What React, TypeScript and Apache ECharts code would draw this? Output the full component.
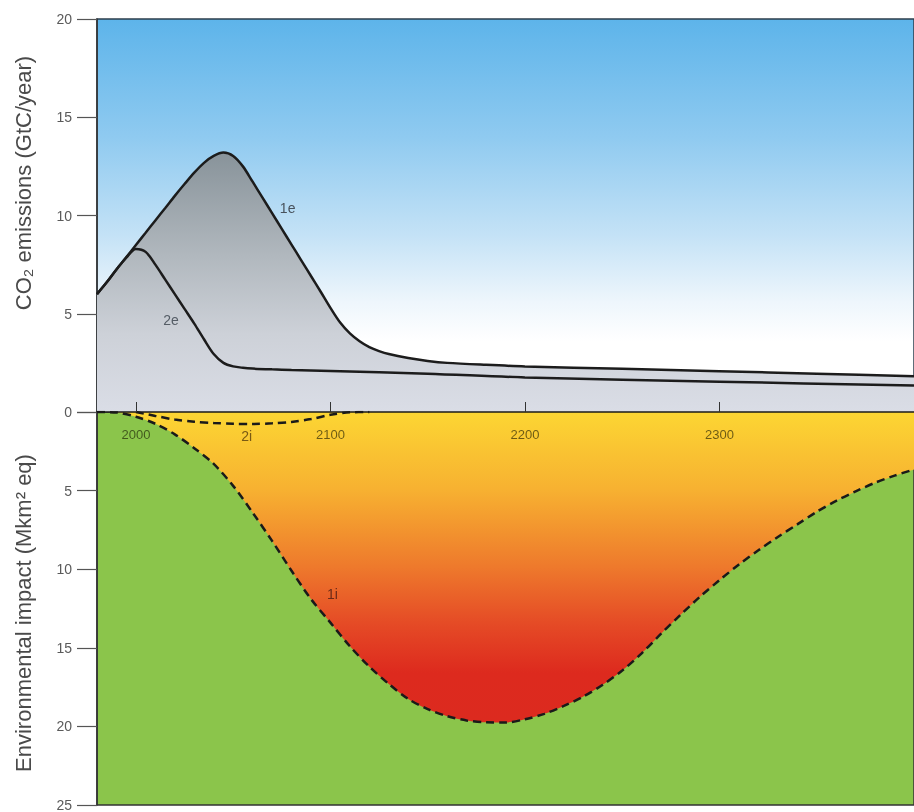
import React, { useEffect, useRef } from "react";
import * as echarts from "echarts";

const yearTicks = [2000, 2100, 2200, 2300];
const emissionTicks = [0, 5, 10, 15, 20];
const impactTicks = [0, 5, 10, 15, 20, 25];

const years1e = [1980, 1985, 1990, 1995, 2000, 2005, 2010, 2015, 2020, 2025, 2030, 2035, 2040, 2045, 2050, 2055, 2060, 2065, 2070, 2075, 2080, 2085, 2090, 2095, 2100, 2105, 2110, 2115, 2120, 2125, 2130, 2140, 2150, 2160, 2180, 2200, 2250, 2300, 2350, 2400];
const values1e = [6.0, 6.6, 7.25, 7.87, 8.5, 9.12, 9.75, 10.37, 11.0, 11.6, 12.18, 12.68, 13.03, 13.2, 13.03, 12.5, 11.72, 10.92, 10.12, 9.32, 8.52, 7.72, 6.92, 6.12, 5.3, 4.55, 4.0, 3.6, 3.3, 3.1, 2.95, 2.75, 2.6, 2.5, 2.4, 2.32, 2.2, 2.08, 1.95, 1.82];

const years2e = [1980, 1985, 1990, 1995, 2000, 2005, 2010, 2015, 2020, 2025, 2030, 2035, 2040, 2045, 2050, 2055, 2060, 2070, 2080, 2100, 2150, 2200, 2300, 2400];
const values2e = [6.0, 6.6, 7.25, 7.85, 8.3, 8.15, 7.5, 6.75, 6.0, 5.25, 4.5, 3.7, 2.95, 2.5, 2.32, 2.25, 2.21, 2.17, 2.14, 2.09, 1.95, 1.76, 1.54, 1.35];

const years1i = [1980, 1990, 2000, 2010, 2020, 2030, 2040, 2050, 2060, 2070, 2080, 2090, 2100, 2110, 2120, 2130, 2140, 2150, 2160, 2170, 2180, 2190, 2200, 2210, 2220, 2230, 2240, 2250, 2260, 2270, 2280, 2290, 2300, 2310, 2320, 2330, 2340, 2350, 2360, 2370, 2380, 2390, 2400];
const values1i = [0, 0.03, 0.3, 0.75, 1.42, 2.3, 3.3, 4.7, 6.4, 8.2, 10.1, 11.9, 13.4, 14.9, 16.2, 17.3, 18.25, 18.9, 19.35, 19.62, 19.74, 19.75, 19.55, 19.2, 18.7, 18.1, 17.35, 16.45, 15.35, 14.1, 12.9, 11.75, 10.7, 9.7, 8.8, 7.95, 7.15, 6.35, 5.65, 5.05, 4.5, 4.05, 3.65];

const years2i = [2000, 2010, 2020, 2030, 2040, 2050, 2060, 2070, 2080, 2090, 2100, 2110, 2120];
const values2i = [0, 0.25, 0.48, 0.62, 0.7, 0.75, 0.76, 0.72, 0.63, 0.45, 0.18, 0.02, 0];

const seriesLabels = [
  { name: "1e", year: 2078, value: 10.4 },
  { name: "2e", year: 2018, value: 4.7 },
  { name: "1i", year: 2101, value: 11.6 },
  { name: "2i", year: 2057, value: 1.5 },
];

const FONT = "'Liberation Sans', Arial, Helvetica, sans-serif";

function pairs(xs: number[], ys: number[]) {
  return xs.map((x, i) => [x, ys[i]]);
}

function labelPoint(name: string, color: string) {
  const l = seriesLabels.find((s) => s.name === name)!;
  return {
    symbol: "circle",
    symbolSize: 1,
    itemStyle: { color: "rgba(0,0,0,0)" },
    label: {
      show: true,
      position: "inside",
      formatter: name,
      color,
      fontSize: 14,
      fontFamily: FONT,
    },
    data: [{ coord: [l.year, l.value] }],
  };
}

export default function App() {
  const ref = useRef<HTMLDivElement>(null);
  useEffect(() => {
    if (!ref.current) return;
    const chart = echarts.init(ref.current, undefined, { renderer: "svg" });
    const lg = (stops: [number, string][]) =>
      new echarts.graphic.LinearGradient(
        0,
        0,
        0,
        1,
        stops.map(([offset, color]) => ({ offset, color }))
      );
    chart.setOption({
      animation: false,
      grid: [
        {
          left: 97,
          top: 19,
          width: 826,
          height: 393,
          show: true,
          borderColor: "#2c3e4c",
          borderWidth: 1.5,
          backgroundColor: lg([
            [0, "#5db4ea"],
            [0.3, "#8fcaf0"],
            [0.55, "#c4e2f6"],
            [0.72, "#eef6fc"],
            [0.82, "#ffffff"],
            [1, "#ffffff"],
          ]),
        },
        {
          left: 97,
          top: 412,
          width: 826,
          height: 393,
          show: true,
          borderColor: "#333333",
          borderWidth: 1.5,
          backgroundColor: "#8bc54b",
        },
      ],
      xAxis: [
        {
          type: "value",
          gridIndex: 0,
          min: 1980,
          max: 2400,
          position: "bottom",
          splitLine: { show: false },
          axisLine: { show: true, lineStyle: { color: "#1a1a1a", width: 1.5 } },
          axisTick: {
            show: true,
            inside: true,
            length: 10,
            customValues: yearTicks,
            lineStyle: { color: "#333", width: 1 },
          },
          axisLabel: {
            show: true,
            customValues: yearTicks,
            formatter: (v: number) => String(v),
            margin: 16,
            color: "rgba(20,20,0,0.62)",
            fontSize: 13,
            fontFamily: FONT,
          },
          z: 10,
        },
        {
          type: "value",
          gridIndex: 1,
          min: 1980,
          max: 2400,
          show: false,
        },
      ],
      yAxis: [
        {
          type: "value",
          gridIndex: 0,
          min: 0,
          max: 20,
          interval: 5,
          splitLine: { show: false },
          axisLine: { show: true, lineStyle: { color: "#333", width: 1.5 } },
          axisTick: { show: true, length: 20, lineStyle: { color: "#555", width: 1.2 } },
          axisLabel: {
            margin: 25,
            color: "#5a5a5a",
            fontSize: 14,
            fontFamily: FONT,
            customValues: emissionTicks,
          },
        },
        {
          type: "value",
          gridIndex: 1,
          min: 0,
          max: 25,
          interval: 5,
          inverse: true,
          splitLine: { show: false },
          axisLine: { show: true, lineStyle: { color: "#333", width: 1.5 } },
          axisTick: { show: true, length: 20, lineStyle: { color: "#555", width: 1.2 } },
          axisLabel: {
            margin: 25,
            color: "#5a5a5a",
            fontSize: 14,
            fontFamily: FONT,
            customValues: impactTicks.filter((v) => v !== 0),
          },
        },
      ],
      graphic: [
        {
          type: "text",
          x: 23,
          y: 183,
          rotation: Math.PI / 2,
          style: {
            text: "CO₂ emissions (GtC/year)",
            fill: "#4a4a4a",
            fontSize: 22,
            fontFamily: FONT,
            align: "center",
            verticalAlign: "middle",
          },
        },
        {
          type: "text",
          x: 23,
          y: 613,
          rotation: Math.PI / 2,
          style: {
            text: "Environmental impact (Mkm² eq)",
            fill: "#4a4a4a",
            fontSize: 22,
            fontFamily: FONT,
            align: "center",
            verticalAlign: "middle",
          },
        },
      ],
      series: [
        {
          name: "1e",
          type: "line",
          xAxisIndex: 0,
          yAxisIndex: 0,
          data: pairs(years1e, values1e),
          smooth: 0.3,
          showSymbol: false,
          lineStyle: { color: "#1c1c1c", width: 2.5 },
          areaStyle: {
            color: lg([
              [0, "#88939a"],
              [0.4, "#b1b8be"],
              [0.7, "#cdd1d8"],
              [1, "#dadde6"],
            ]),
            opacity: 1,
          },
          markPoint: labelPoint("1e", "#48525c"),
          z: 3,
        },
        {
          name: "2e",
          type: "line",
          xAxisIndex: 0,
          yAxisIndex: 0,
          data: pairs(years2e, values2e),
          smooth: 0.3,
          showSymbol: false,
          lineStyle: { color: "#1c1c1c", width: 2.5 },
          markPoint: labelPoint("2e", "#555d66"),
          z: 4,
        },
        {
          name: "1i",
          type: "line",
          xAxisIndex: 1,
          yAxisIndex: 1,
          data: pairs(years1i, values1i),
          smooth: 0.3,
          showSymbol: false,
          lineStyle: { color: "#1a1a1a", width: 2.5, type: [8, 5] },
          areaStyle: {
            color: lg([
              [0, "#fcd633"],
              [0.25, "#f7b131"],
              [0.5, "#ee792c"],
              [0.68, "#e54b26"],
              [0.84, "#dd2a1e"],
              [1, "#dc2a1f"],
            ]),
            opacity: 1,
          },
          markPoint: labelPoint("1i", "#6a2a18"),
          z: 3,
        },
        {
          name: "2i",
          type: "line",
          xAxisIndex: 1,
          yAxisIndex: 1,
          data: pairs(years2i, values2i),
          smooth: 0.3,
          showSymbol: false,
          lineStyle: { color: "#1a1a1a", width: 2.5, type: [8, 5] },
          markPoint: labelPoint("2i", "#7a5a14"),
          z: 4,
        },
      ],
    });
    return () => chart.dispose();
  }, []);
  return (
    <div
      ref={ref}
      style={{ position: "fixed", left: 0, top: 0, width: 914, height: 812 }}
    />
  );
}
